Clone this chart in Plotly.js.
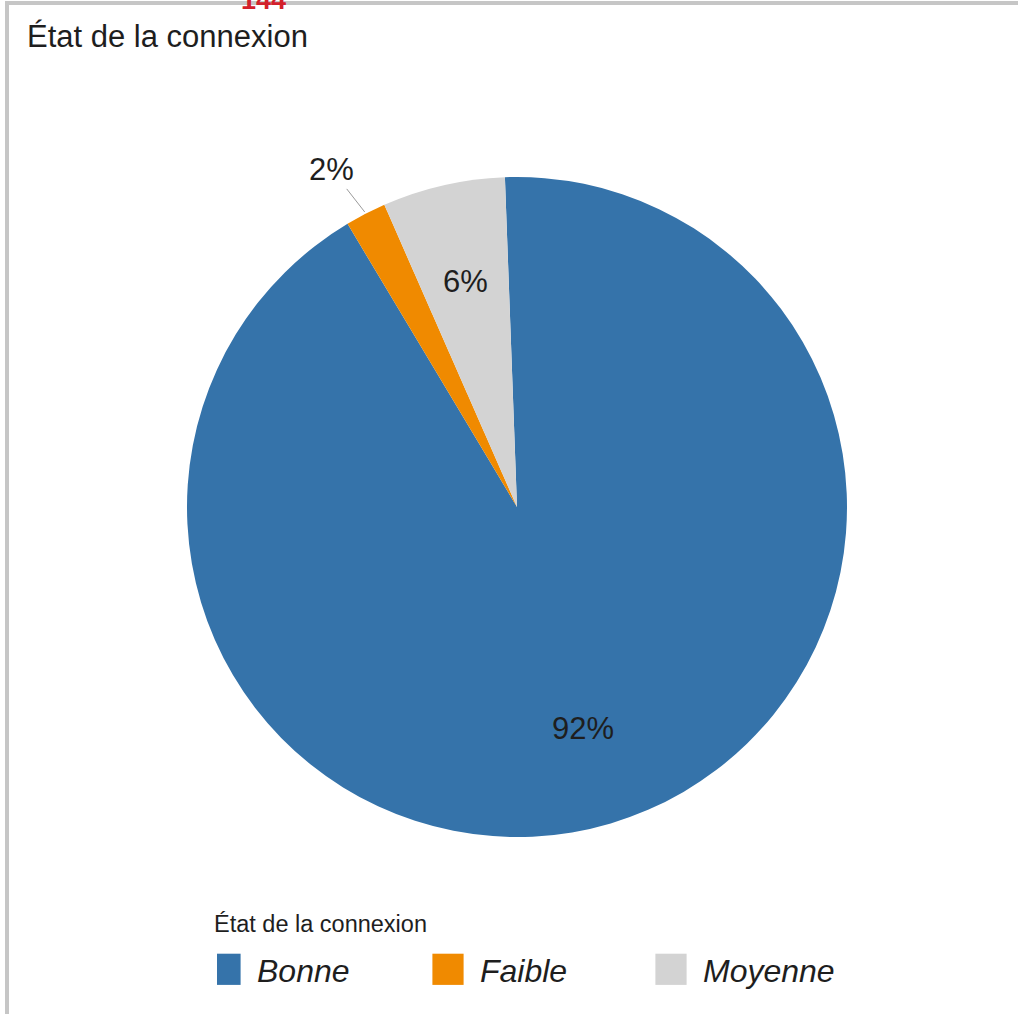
<!DOCTYPE html>
<html>
<head>
<meta charset="utf-8">
<script src="https://cdn.plot.ly/plotly-3.0.1.min.js"></script>
<style>
  html, body { margin: 0; padding: 0; background: #fff; }
  #frame { position: absolute; left: 5px; top: 1px; width: 1013px; height: 1013px;
           border-left: 4px solid #c6c6c6; border-top: 4px solid #c6c6c6; box-sizing: border-box; }
  #chart { position: absolute; left: 0; top: 0; width: 1018px; height: 1014px; }
</style>
</head>
<body>
<div id="frame"></div>
<div id="chart"></div>
<script>
// Data
const categories = ["Bonne", "Faible", "Moyenne"];
const values = [92, 2, 6];
const sliceColors = ["#3573AA", "#F08A00", "#D3D3D3"];
const labelPlacement = ["inside", "outside", "inside"];
const chartTitle = "État de la connexion";
const legendTitle = "État de la connexion";
const pageNumber = "144";

const W = 1018, H = 1014;
const cx = 517, cy = 507, R = 330;
const rotationDeg = -2.1;
const FONT = "Liberation Sans, Arial, sans-serif";
const TXT = "#1e1e1e";

const trace = {
  type: "pie",
  labels: categories,
  values: values,
  sort: false,
  direction: "clockwise",
  rotation: rotationDeg,
  marker: { colors: sliceColors, line: { width: 0 } },
  textinfo: "none",
  hoverinfo: "none",
  domain: { x: [(cx - R) / W, (cx + R) / W], y: [(H - cy - R) / H, (H - cy + R) / H] }
};

// Percentage labels placed at each slice's mid-angle (computed from the data)
const total = values.reduce((a, b) => a + b, 0);
const annotations = [];
let cum = 0;
values.forEach(function (v, i) {
  const midDeg = rotationDeg + (cum + v / 2) / total * 360;
  cum += v;
  const a = midDeg * Math.PI / 180;
  const dx = Math.sin(a), dy = -Math.cos(a);
  const txt = Math.round(v / total * 100) + "%";
  if (labelPlacement[i] === "inside") {
    const r = 0.7 * R;
    annotations.push({
      text: txt, xref: "paper", yref: "paper",
      x: (cx + r * dx) / W, y: 1 - (cy + r * dy) / H,
      xanchor: "center", yanchor: "middle", showarrow: false,
      font: { family: FONT, size: 31, color: TXT }
    });
  } else {
    const rEdge = R + 2, rLab = 1.17 * R;
    annotations.push({
      text: txt, xref: "paper", yref: "paper",
      x: (cx + rEdge * dx) / W, y: 1 - (cy + rEdge * dy) / H,
      ax: (rLab - rEdge) * dx - 8, ay: (rLab - rEdge) * dy + 6,
      showarrow: true, arrowhead: 0, arrowwidth: 1, arrowcolor: "#9a9a9a", standoff: 0,
      font: { family: FONT, size: 31, color: TXT }
    });
  }
});

annotations.push({
  text: legendTitle, xref: "paper", yref: "paper",
  x: 212 / W, y: 1 - 924 / H, xanchor: "left", yanchor: "middle", showarrow: false,
  font: { family: FONT, size: 23.5, color: TXT }
});
annotations.push({
  text: "<b>" + pageNumber + "</b>", xref: "paper", yref: "paper",
  x: 263 / W, y: 1, xanchor: "center", yanchor: "middle", showarrow: false,
  font: { size: 27, color: "#D3202A", family: FONT }
});

const layout = {
  width: W, height: H,
  margin: { l: 0, r: 0, t: 0, b: 0 },
  paper_bgcolor: "rgba(0,0,0,0)",
  plot_bgcolor: "rgba(0,0,0,0)",
  font: { family: FONT, color: TXT },
  title: {
    text: chartTitle,
    xref: "container", yref: "container",
    x: 27 / W, xanchor: "left",
    y: 1 - 36 / H, yanchor: "middle",
    font: { size: 31, color: TXT }
  },
  showlegend: true,
  legend: {
    orientation: "h",
    x: 217 / W, xanchor: "left",
    y: 1 - 942 / H, yanchor: "top",
    entrywidth: 178, entrywidthmode: "pixels",
    font: { size: 32, color: TXT, style: "italic" },
    bgcolor: "rgba(0,0,0,0)", borderwidth: 0
  },
  annotations: annotations
};

Plotly.newPlot("chart", [trace], layout, { displayModeBar: false, staticPlot: true }).then(function () {
  document.querySelectorAll(".legendpie").forEach(function (p) {
    p.setAttribute("transform", "translate(8,0) scale(2.6)");
  });
});
</script>
</body>
</html>
